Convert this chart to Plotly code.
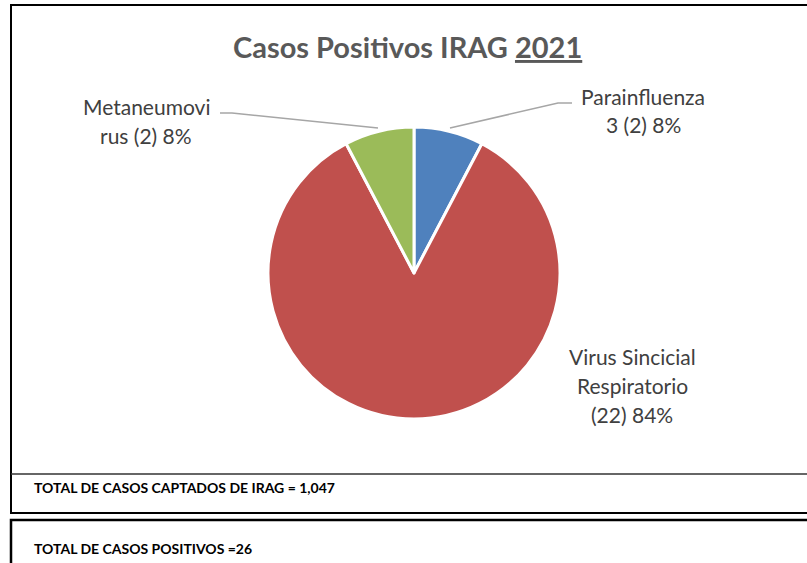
import plotly.graph_objects as go

W, H = 807, 563

categories = ["Parainfluenza 3", "Virus Sincicial Respiratorio", "Metaneumovirus"]
values = [2, 22, 2]
percent_labels = ["8%", "84%", "8%"]
colors = ["#4F81BD", "#C0504D", "#9BBB59"]
title_text = "Casos Positivos IRAG <u>2021</u>"
total_captados = "TOTAL DE CASOS CAPTADOS DE IRAG = 1,047"
total_positivos = "TOTAL DE CASOS POSITIVOS =26"

def px(x):
    return x / W

def py(y):
    return 1 - y / H

cx, cy, r = 414, 273, 146

fig = go.Figure()
fig.add_trace(go.Pie(
    labels=categories,
    values=values,
    sort=False,
    direction="clockwise",
    rotation=0,
    textinfo="none",
    hoverinfo="label+value+percent",
    marker=dict(colors=colors, line=dict(color="white", width=3)),
    domain=dict(x=[px(cx - r), px(cx + r)], y=[py(cy + r), py(cy - r)]),
    showlegend=False,
))

label_font = dict(family="Lato", size=21, color="#404040")

# data labels (one annotation per line for Excel-like spacing)
label_lines = [
    (f"Parainfluenza", 643, 96),
    (f"3 ({values[0]}) {percent_labels[0]}", 643, 124),
    (f"Virus Sincicial", 632, 356),
    (f"Respiratorio", 632, 385),
    (f"({values[1]}) {percent_labels[1]}", 632, 414),
    (f"Metaneumovi", 146, 106),
    (f"rus ({values[2]}) {percent_labels[2]}", 146, 135),
]
annotations = []
for txt, x, y in label_lines:
    annotations.append(dict(text=txt, x=px(x), y=py(y), xref="paper", yref="paper",
                            xanchor="center", yanchor="middle", showarrow=False,
                            font=label_font))

annotations.append(dict(text="<b>" + title_text + "</b>", x=px(408), y=py(46),
                        xref="paper", yref="paper", xanchor="center", yanchor="middle",
                        showarrow=False, font=dict(family="Lato", size=29, color="#595959")))
bottom_font = dict(family="Lato", size=14, color="black")
annotations.append(dict(text="<b>" + total_captados + "</b>", x=px(32), y=py(487),
                        xref="paper", yref="paper", xanchor="left", yanchor="middle",
                        showarrow=False, font=bottom_font))
annotations.append(dict(text="<b>" + total_positivos + "</b>", x=px(32), y=py(548),
                        xref="paper", yref="paper", xanchor="left", yanchor="middle",
                        showarrow=False, font=bottom_font))

def path(points):
    s = "M " + " L ".join(f"{px(x)},{py(y)}" for x, y in points)
    return s

shapes = [
    # leader lines
    dict(type="path", xref="paper", yref="paper",
         path=path([(572, 103), (558, 103), (450, 128)]),
         line=dict(color="#A6A6A6", width=1.5)),
    dict(type="path", xref="paper", yref="paper",
         path=path([(220, 113), (232, 113), (378, 128)]),
         line=dict(color="#A6A6A6", width=1.5)),
    # outer chart box
    dict(type="path", xref="paper", yref="paper",
         path=path([(W + 5, 5), (11, 5), (11, 513), (W + 5, 513)]),
         line=dict(color="black", width=2)),
    # separator under chart
    dict(type="line", xref="paper", yref="paper", x0=px(11), x1=px(W + 5), y0=py(474), y1=py(474),
         line=dict(color="#333333", width=1.5)),
    # lower box
    dict(type="path", xref="paper", yref="paper",
         path=path([(W + 5, 520), (11, 520), (11, H + 5)]),
         line=dict(color="black", width=2.5)),
]

fig.update_layout(
    width=W, height=H,
    margin=dict(l=0, r=0, t=0, b=0),
    paper_bgcolor="white", plot_bgcolor="white",
    annotations=annotations,
    shapes=shapes,
)

fig.write_html("out.html", config={"displayModeBar": False},
               post_script="document.body.style.margin='0';document.body.style.overflow='hidden';")
